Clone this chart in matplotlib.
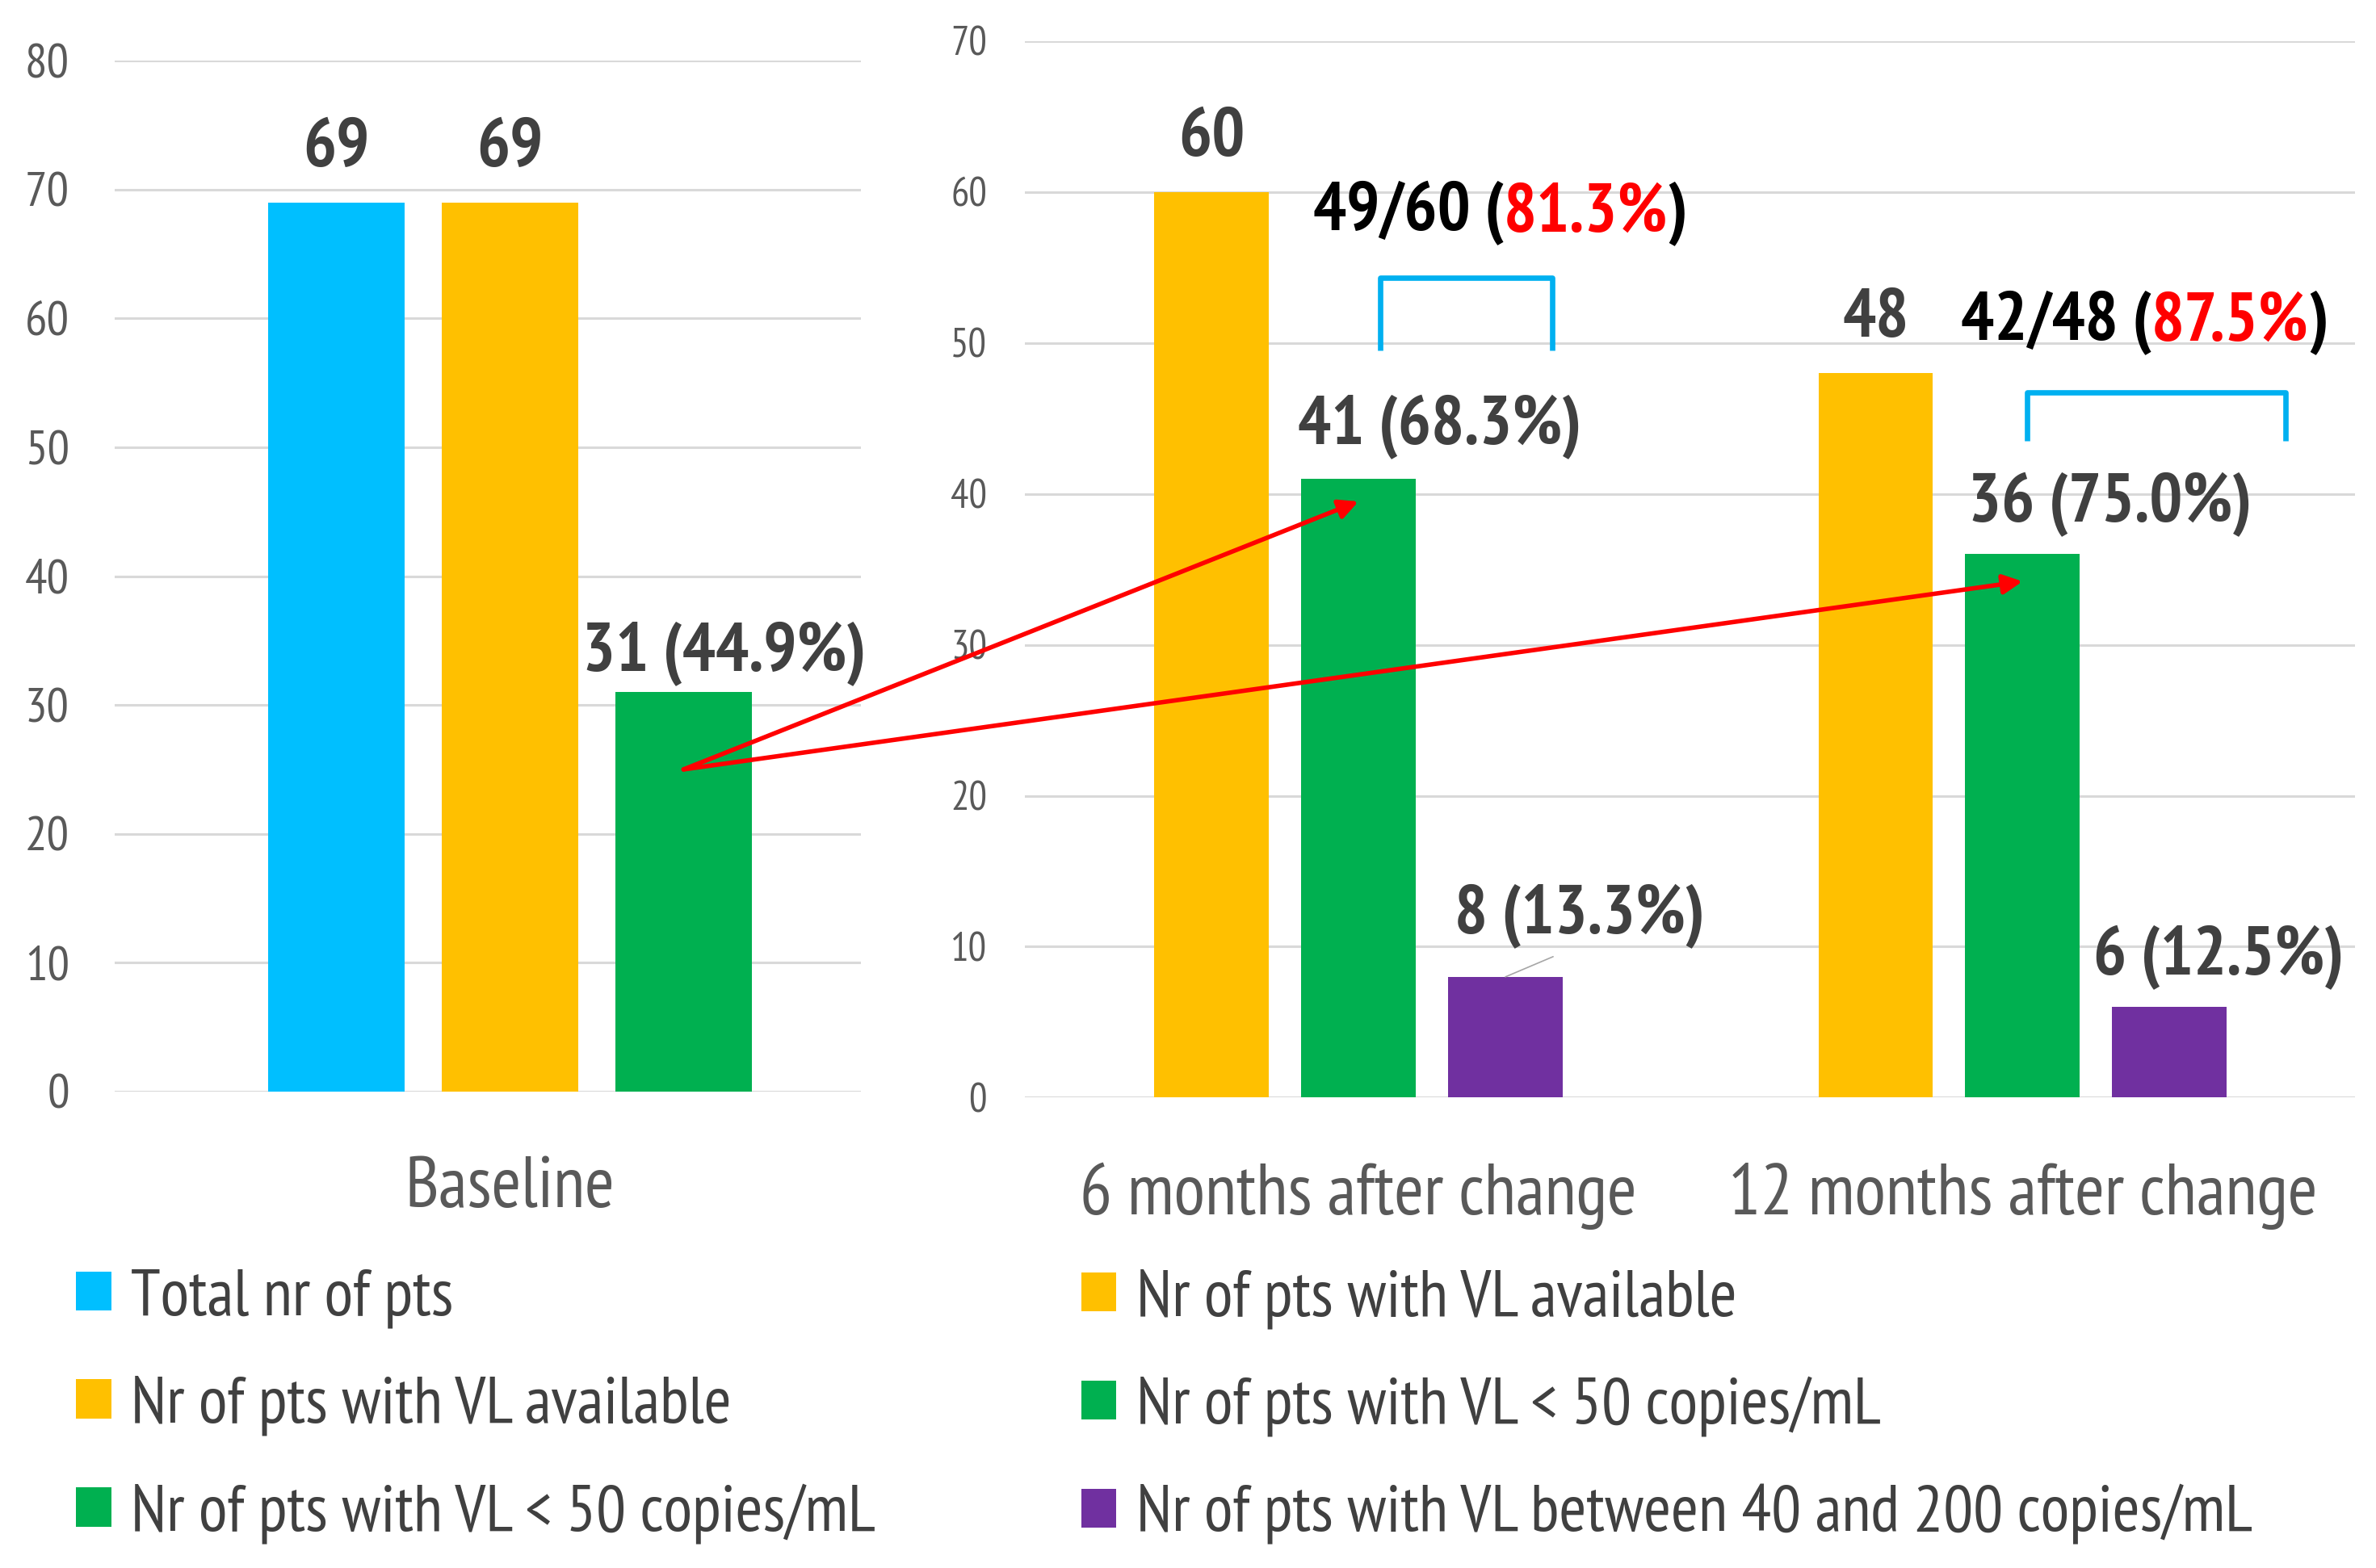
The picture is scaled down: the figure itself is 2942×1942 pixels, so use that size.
import numpy as np
import matplotlib
matplotlib.use("Agg")
import matplotlib.pyplot as plt
from matplotlib.patches import ConnectionPatch

plt.rcParams['font.family'] = ['PT Sans Narrow', 'DejaVu Sans']

# data
base_labels = ["Total nr of pts", "Nr of pts with VL available", "Nr of pts with VL < 50 copies/mL"]
base_values = [69, 69, 31]
base_texts = ["69", "69", "31 (44.9%)"]

follow_categories = ["6 months after change", "12 months after change"]
follow_labels = ["Nr of pts with VL available", "Nr of pts with VL < 50 copies/mL",
                 "Nr of pts with VL between 40 and 200 copies/mL"]
vl_available = [60, 48]
vl_below_50 = [41, 36]
vl_40_200 = [8, 6]
txt_available = ["60", "48"]
txt_below_50 = ["41 (68.3%)", "36 (75.0%)"]
txt_40_200 = ["8 (13.3%)", "6 (12.5%)"]
ratio_left = ["49/60 (", "42/48 ("]
ratio_pct = ["81.3%", "87.5%"]

base_colors = ["#00BFFF", "#FFC000", "#00B050"]
follow_colors = ["#FFC000", "#00B050", "#7030A0"]
grid_c = "#D9D9D9"
tick_c = "#595959"
val_c = "#404040"

fig = plt.figure(figsize=(14.71, 9.71), dpi=200)
ax1 = fig.add_axes([0.0481, 0.3039, 0.3141, 0.6573])
ax2 = fig.add_axes([0.4314, 0.300, 0.5596, 0.6738])

for ax in (ax1, ax2):
    for s in ax.spines.values():
        s.set_visible(False)
    ax.set_axisbelow(True)
    ax.yaxis.grid(True, color=grid_c, lw=1.1)
    ax.tick_params(length=0, colors=tick_c)

# baseline panel
xb = np.arange(3) - 1
bars1 = ax1.bar(xb, base_values, width=0.79, color=base_colors)
ax1.set_xlim(-2.28, 2.02)
ax1.set_ylim(0, 80)
ax1.set_yticks(range(0, 81, 10))
ax1.tick_params(axis='y', labelsize=22, pad=20)
ax1.set_xticks([0])
ax1.set_xticklabels(["Baseline"], fontsize=32)
ax1.tick_params(axis='x', pad=29)
offs1 = [(0, 24), (0, 24), (18, 17)]
for x, v, t, o in zip(xb, base_values, base_texts, offs1):
    ax1.annotate(t, (x, v), xytext=o, textcoords='offset points', ha='center', va='center',
                 fontsize=31, fontweight='bold', color=val_c)

# follow-up panel
groups = np.array([0, 4.52])
w = 0.78
series = [vl_available, vl_below_50, vl_40_200]
handles2 = []
for i, (vals, col) in enumerate(zip(series, follow_colors)):
    b = ax2.bar(groups + (i - 1), vals, width=w, color=col)
    handles2.append(b)
ax2.set_xlim(-2.27, 6.78)
ax2.set_ylim(0, 70)
ax2.set_yticks(range(0, 71, 10))
ax2.tick_params(axis='y', labelsize=18, pad=17)
ax2.set_xticks(groups)
ax2.set_xticklabels(follow_categories, fontsize=32)
ax2.tick_params(axis='x', pad=29)

for g, v, t in zip(groups, vl_available, txt_available):
    ax2.annotate(t, (g - 1, v), xytext=(0, 24), textcoords='offset points', ha='center',
                 va='center', fontsize=31, fontweight='bold', color=val_c)
for g, v, t, o in zip(groups, vl_below_50, txt_below_50, [(36, 23), (39, 22)]):
    ax2.annotate(t, (g, v), xytext=o, textcoords='offset points', ha='center',
                 va='center', fontsize=31, fontweight='bold', color=val_c)
lead = [dict(arrowstyle='-', color='#A6A6A6', lw=0.6, relpos=(0.47, 0), shrinkA=4, shrinkB=0), None]
for g, v, t, o, lp in zip(groups, vl_40_200, txt_40_200, [(33, 27), (22, 22)], lead):
    ax2.annotate(t, (g + 1, v), xytext=o, textcoords='offset points', ha='center',
                 va='center', fontsize=31, fontweight='bold', color=val_c, arrowprops=lp)

# ratio annotations with brackets
ratio_pos = [(-0.31, 58.6), (4.10, 51.4)]
bracket_x = [(0.145, 1.32), (4.55, 6.31)]
bracket_y = [(49.5, 54.3), (43.5, 46.7)]
for (x, y), a, p, bx, by in zip(ratio_pos, ratio_left, ratio_pct, bracket_x, bracket_y):
    t1 = ax2.text(x, y, a, ha='left', va='center', fontsize=31, fontweight='bold', color='black')
    t2 = ax2.annotate(p, xy=(1, 0), xycoords=t1, ha='left', va='bottom', fontsize=31,
                      fontweight='bold', color='#FF0000')
    ax2.annotate(")", xy=(1, 0), xycoords=t2, ha='left', va='bottom', fontsize=31,
                 fontweight='bold', color='black')
    ax2.plot([bx[0], bx[0], bx[1], bx[1]], [by[0], by[1], by[1], by[0]], color='#00B0F0',
             lw=2.4, solid_joinstyle='round', solid_capstyle='butt')

# red arrows from baseline to follow-up
arrow_start = (1.0, 25)
arrow_end_y = [39.5, 34.2]
for g, ey in zip(groups, arrow_end_y):
    con = ConnectionPatch(xyA=arrow_start, coordsA=ax1.transData, xyB=(g, ey), coordsB=ax2.transData,
                          arrowstyle='-|>', color='#FF0000', lw=2.0, mutation_scale=18,
                          shrinkA=0, shrinkB=0)
    fig.add_artist(con)

# legends
leg_kw = dict(loc='upper left', frameon=False, fontsize=29.5, handlelength=0.53, handleheight=0.53,
              handletextpad=0.3, labelspacing=0.72, borderpad=0, borderaxespad=0, labelcolor=val_c)
fig.legend(bars1.patches, base_labels, bbox_to_anchor=(0.032, 0.191), **leg_kw)
fig.legend([h.patches[0] for h in handles2], follow_labels, bbox_to_anchor=(0.455, 0.191), **leg_kw)

fig.savefig("out.png", dpi=200)
